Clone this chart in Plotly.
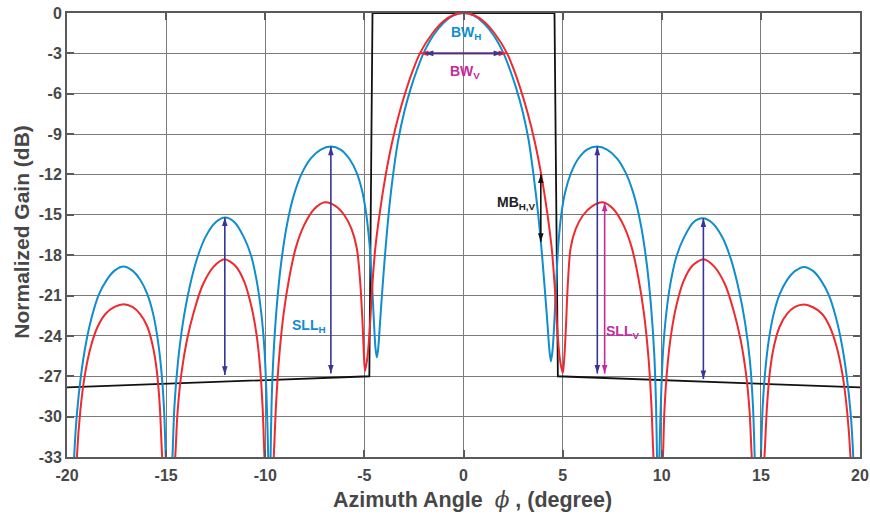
import plotly.graph_objects as go

# Horizontal-polarisation pattern (blue), azimuth in degrees / normalised gain in dB
az_h = [-19.8, -19.64, -19.5, -19.3, -19.05, -18.75, -18.4, -18.0, -17.6, -17.15,
        -16.7, -16.3, -15.95, -15.65, -15.42, -15.24, -15.11, -15.02, -14.88,
        -14.68, -14.58, -14.4, -14.15, -13.85, -13.45, -13.0, -12.5, -12.02,
        -11.55, -11.1, -10.72, -10.42, -10.2, -10.04, -9.94, -9.85, -9.79,
        -9.73, -9.68, -9.58, -9.42, -9.2, -8.9, -8.55, -8.15, -7.7, -7.2, -6.69,
        -6.2, -5.75, -5.38, -5.1, -4.9, -4.74, -4.62, -4.52, -4.44, -4.37,
        -4.3, -4.21, -4.1, -3.96, -3.78, -3.55, -3.3, -2.98, -2.66, -2.34, -2.02,
        -1.5, -1.0, -0.5, 0.0, 0.5, 1.0, 1.5, 2.02, 2.34, 2.66, 2.98, 3.28, 3.53,
        3.77, 3.95, 4.1, 4.24, 4.33, 4.41, 4.49, 4.57, 4.67, 4.78, 4.93, 5.13,
        5.42, 5.78, 6.23, 6.73, 7.24, 7.74, 8.19, 8.59, 8.94, 9.24, 9.46, 9.62,
        9.71, 9.76, 9.82, 9.88, 9.97, 10.07, 10.23, 10.45, 10.76, 11.15, 11.6,
        12.07, 12.55, 13.05, 13.5, 13.9, 14.2, 14.45, 14.6, 14.69, 14.84, 15.0,
        15.09, 15.22, 15.4, 15.64, 15.95, 16.32, 16.73, 17.18, 17.63, 18.03,
        18.43, 18.78, 19.08, 19.33, 19.53, 19.66, 19.8]
gain_h = [-40, -33, -29.8, -27.0, -24.6, -22.6, -20.95, -19.85, -19.15, -18.85,
          -19.15, -19.85, -20.9, -22.4, -24.3, -26.6, -29.3, -33, -40,
          -33, -29.2, -25.9, -23.0, -20.6, -18.3, -16.6, -15.55, -15.2,
          -15.55, -16.6, -18.0, -20.0, -22.3, -25.0, -28.3, -33, -40,
          -33, -29.0, -25.3, -21.8, -18.6, -15.7, -13.5, -11.9, -10.8, -10.15, -9.93,
          -10.15, -10.85, -11.9, -13.3, -15.0, -17.2, -19.9, -22.9, -24.9, -25.6,
          -24.9, -23.0, -20.7, -18.0, -15.0, -12.0, -9.5, -7.3, -5.6, -4.2, -3.0,
          -1.62, -0.72, -0.18, 0.0, -0.18, -0.72, -1.62, -3.0, -4.2, -5.6, -7.3, -9.4, -12.0,
          -15.0, -17.8, -20.5, -23.2, -25.0, -25.9, -25.1, -23.3, -20.2, -17.3, -15.0, -13.3,
          -11.9, -10.85, -10.15, -9.93, -10.15, -10.8, -11.9, -13.5, -15.7, -18.6, -21.8, -25.3,
          -29.0, -33, -40, -33, -28.3, -25.0, -22.3, -20.0, -18.0, -16.6, -15.55,
          -15.26, -15.6, -16.65, -18.35, -20.65, -23.0, -25.9, -29.2, -33, -40, -33,
          -29.3, -26.6, -24.3, -22.4, -20.9, -19.85, -19.17, -18.87, -19.17, -19.87,
          -20.97, -22.6, -24.6, -27.0, -29.8, -33, -40]

# Vertical-polarisation pattern (red)
az_v = [-19.64, -19.5, -19.33, -19.1, -18.8, -18.45, -18.05, -17.6, -17.15,
        -16.7, -16.3, -15.95, -15.68, -15.47, -15.32, -15.2, -14.87,
        -14.54, -14.42, -14.22, -13.95, -13.6, -13.15, -12.6, -12.05,
        -11.5, -11.05, -10.7, -10.45, -10.27, -10.13, -10.04, -9.82,
        -9.57, -9.47, -9.3, -9.07, -8.78, -8.45, -8.05, -7.55, -7.0,
        -6.45, -6.0, -5.65, -5.38, -5.22, -5.1, -5.03, -4.97,
        -4.84, -4.72, -4.6, -4.45, -4.22, -3.92, -3.6, -3.25, -2.89, -2.55, -2.2,
        -1.6, -1.0, -0.5, 0.0, 0.5, 1.0, 1.6, 2.2, 2.55, 2.89, 3.25, 3.6, 3.92,
        4.22, 4.45, 4.6, 4.72, 4.86, 5.01, 5.09, 5.17, 5.26, 5.4, 5.66, 6.02, 6.5,
        7.03, 7.58, 8.08, 8.48, 8.81, 9.1, 9.33, 9.49, 9.58, 9.84, 10.06, 10.14,
        10.29, 10.48, 10.73, 11.08, 11.53, 12.1, 12.65, 13.2, 13.64, 13.98, 14.24,
        14.43, 14.54, 14.87, 15.18, 15.31, 15.46, 15.67, 15.95, 16.3, 16.72, 17.18,
        17.63, 18.08, 18.47, 18.82, 19.12, 19.35, 19.52, 19.66]
gain_v = [-40, -33, -29.6, -26.9, -24.8, -23.3, -22.35, -21.85, -21.65,
          -21.85, -22.4, -23.3, -24.7, -26.6, -29.2, -33, -40,
          -33, -29.6, -26.7, -24.3, -22.2, -20.2, -18.85, -18.3,
          -18.8, -20.0, -21.8, -23.8, -26.2, -29.4, -33, -40,
          -33, -29.5, -25.6, -22.3, -19.6, -17.4, -15.8, -14.6, -14.07,
          -14.35, -15.05, -16.05, -17.5, -19.8, -22.8, -25.2, -26.6,
          -25.5, -23.3, -20.3, -17.5, -14.8, -12.0, -9.6, -7.5, -5.7, -4.25, -3.0,
          -1.58, -0.6, -0.15, 0.0, -0.15, -0.6, -1.58, -3.0, -4.25, -5.71, -7.5, -9.6, -12.0,
          -14.8, -17.5, -20.3, -23.3, -25.7, -26.76, -25.5, -23.2, -20.2, -17.5, -16.05, -15.05, -14.35,
          -14.07, -14.6, -15.8, -17.4, -19.6, -22.3, -25.6, -29.5, -33, -40, -33, -29.4,
          -26.2, -23.8, -21.8, -20.0, -18.8, -18.3, -18.85, -20.2, -22.2, -24.3, -26.7,
          -29.6, -33, -40, -33, -29.2, -26.6, -24.7, -23.3, -22.4, -21.85, -21.67,
          -21.87, -22.35, -23.3, -24.8, -26.9, -29.6, -33, -40]

# Required beam mask (black)
az_mask = [-20, -4.75, -4.59, 4.59, 4.76, 20]
gain_mask = [-27.83, -27.0, 0.0, 0.0, -27.0, -27.83]

x_ticks = [-20, -15, -10, -5, 0, 5, 10, 15, 20]
y_ticks = [0, -3, -6, -9, -12, -15, -18, -21, -24, -27, -30, -33]

BLUE = "#0f8dcf"
RED = "#ee2a2e"
NAVY = "#36369a"
MAGENTA = "#c42a9c"
TXT = "#474747"
FONT = "Liberation Sans"

fig = go.Figure()
fig.add_trace(go.Scatter(x=az_mask, y=gain_mask, mode="lines",
                         line=dict(color="#111111", width=1.8), showlegend=False,
                         hoverinfo="skip"))
fig.add_trace(go.Scatter(x=az_h, y=gain_h, mode="lines",
                         line=dict(color=BLUE, width=2, shape="spline", smoothing=0.8),
                         showlegend=False))
fig.add_trace(go.Scatter(x=az_v, y=gain_v, mode="lines",
                         line=dict(color=RED, width=2, shape="spline", smoothing=0.8),
                         showlegend=False))


def arrow(x0, y0, x1, y1, color):
    """Double-headed arrow from (x0, y0) to (x1, y1); only vertical or horizontal."""
    if x0 == x1:
        angles = [0, 180] if y0 > y1 else [180, 0]
    else:
        angles = [270, 90] if x0 < x1 else [90, 270]
    fig.add_trace(go.Scatter(x=[x0, x1], y=[y0, y1], mode="lines+markers",
                             line=dict(color=color, width=1.6),
                             marker=dict(symbol="arrow", size=9, angle=angles, color=color,
                                         line=dict(width=0)),
                             showlegend=False, hoverinfo="skip"))


# beamwidth markers at -3 dB
arrow(-2.2, -3, 2.2, -3, RED)
arrow(-1.95, -3, 1.95, -3, NAVY)
# sidelobe-level markers
arrow(-12.04, -15.2, -12.04, -26.9, NAVY)
arrow(-6.69, -9.93, -6.69, -26.8, NAVY)
arrow(6.75, -9.93, 6.75, -26.8, NAVY)
arrow(12.1, -15.26, 12.1, -27.2, NAVY)
arrow(7.12, -14.1, 7.12, -26.8, MAGENTA)
# main-beam margin marker
arrow(3.9, -12.0, 3.9, -17.0, "#111111")


def label(x, y, text, color, xanchor="center"):
    fig.add_annotation(x=x, y=y, xref="x", yref="y", text=text, showarrow=False,
                       xanchor=xanchor, yanchor="middle",
                       font=dict(family=FONT, size=14, color=color, weight="bold"))


label(0.15, -1.5, "BW<sub>H</sub>", BLUE)
label(0.1, -4.4, "BW<sub>V</sub>", MAGENTA)
label(-6.85, -23.3, "SLL<sub>H</sub>", BLUE, "right")
label(7.1, -23.7, "SLL<sub>V</sub>", MAGENTA, "left")
label(3.78, -14.1, "MB<sub>H,V</sub>", "#222222", "right")

# axis titles
fig.add_annotation(
    x=0.511, y=-0.095, xref="paper", yref="paper", yanchor="middle",
    text="Azimuth Angle&nbsp;&nbsp;<span style='font-family:DejaVu Serif;font-weight:normal'>"
         "<i>ϕ</i></span> , (degree)",
    showarrow=False, font=dict(family=FONT, size=21.5, color=TXT, weight="bold"))
fig.add_annotation(x=-0.057, y=0.507, xref="paper", yref="paper", xanchor="center",
                   text="Normalized Gain (dB)", textangle=-90, showarrow=False,
                   font=dict(family=FONT, size=21, color=TXT, weight="bold"))

axis_common = dict(showgrid=True, gridcolor="#7a7a7a", gridwidth=1,
                   showline=True, linecolor="#5a5a5a", linewidth=2, mirror="ticks",
                   ticks="inside", ticklen=7, tickwidth=1.5, tickcolor="#5a5a5a",
                   zeroline=False, automargin=False,
                   tickfont=dict(family=FONT, size=16, color=TXT, weight="bold"))

fig.update_xaxes(range=[-20, 20], tickvals=x_ticks, ticktext=[str(v) for v in x_ticks],
                 ticklabelstandoff=3, **axis_common)
fig.update_yaxes(range=[-33, 0], tickvals=y_ticks, ticktext=[str(v) for v in y_ticks],
                 **axis_common)

fig.update_layout(width=870, height=515, margin=dict(l=67, r=10, t=13, b=58),
                  plot_bgcolor="white", paper_bgcolor="white")

fig.write_html("out.html")
